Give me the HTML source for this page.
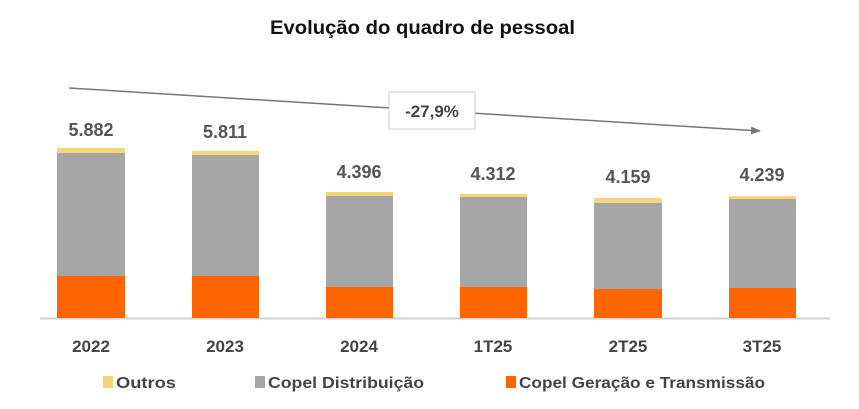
<!DOCTYPE html>
<html><head><meta charset="utf-8"><style>
html,body{margin:0;padding:0;background:#fff;width:859px;height:409px;overflow:hidden}
svg{display:block}
text{font-family:"Liberation Sans",sans-serif;font-weight:bold}
</style></head><body>
<svg width="859" height="409" viewBox="0 0 859 409">
<defs><marker id="ah" markerWidth="10" markerHeight="8" refX="9" refY="4" orient="auto" markerUnits="userSpaceOnUse"><path d="M0,0 L10,4 L0,8 z" fill="#777"/></marker></defs>
<text x="270" y="34" font-size="19" fill="#111" textLength="305" lengthAdjust="spacingAndGlyphs">Evolução do quadro de pessoal</text>
<line x1="69" y1="88" x2="760" y2="131" stroke="#777" stroke-width="1.5" marker-end="url(#ah)"/>
<rect x="389" y="92" width="86" height="37" fill="#fff" stroke="#ccc" stroke-width="1"/>
<text x="432" y="117" font-size="17" fill="#444" text-anchor="middle">-27,9%</text>
<line x1="40" y1="318.5" x2="830" y2="318.5" stroke="#d0d0d0" stroke-width="2"/>
<g>
<rect x="57" y="148" width="68" height="5" fill="#f5d57a"/><rect x="57" y="153" width="68" height="123" fill="#a6a6a6"/><rect x="57" y="276" width="68" height="42" fill="#ff6600"/>
<rect x="192" y="151" width="67" height="4" fill="#f5d57a"/><rect x="192" y="155" width="67" height="121" fill="#a6a6a6"/><rect x="192" y="276" width="67" height="42" fill="#ff6600"/>
<rect x="326" y="192" width="67" height="4" fill="#f5d57a"/><rect x="326" y="196" width="67" height="91" fill="#a6a6a6"/><rect x="326" y="287" width="67" height="31" fill="#ff6600"/>
<rect x="460" y="194" width="67" height="3" fill="#f5d57a"/><rect x="460" y="197" width="67" height="90" fill="#a6a6a6"/><rect x="460" y="287" width="67" height="31" fill="#ff6600"/>
<rect x="594" y="198" width="68" height="5" fill="#f5d57a"/><rect x="594" y="203" width="68" height="86" fill="#a6a6a6"/><rect x="594" y="289" width="68" height="29" fill="#ff6600"/>
<rect x="729" y="196" width="67" height="3" fill="#f5d57a"/><rect x="729" y="199" width="67" height="89" fill="#a6a6a6"/><rect x="729" y="288" width="67" height="30" fill="#ff6600"/>
</g>
<g font-size="18" fill="#555" text-anchor="middle">
<text x="91" y="136">5.882</text><text x="225" y="138">5.811</text><text x="359" y="178">4.396</text>
<text x="493" y="180">4.312</text><text x="628" y="183">4.159</text><text x="762" y="181">4.239</text>
</g>
<g font-size="17" fill="#444" text-anchor="middle">
<text x="91" y="352">2022</text><text x="225" y="352">2023</text><text x="359" y="352">2024</text>
<text x="493" y="352">1T25</text><text x="628" y="352">2T25</text><text x="762" y="352">3T25</text>
</g>
<rect x="103" y="376" width="10" height="12" fill="#f5d57a"/>
<text x="116" y="388" font-size="16" fill="#444" textLength="60" lengthAdjust="spacingAndGlyphs">Outros</text>
<rect x="255" y="376" width="10" height="12" fill="#a6a6a6"/>
<text x="268" y="388" font-size="16" fill="#444" textLength="156" lengthAdjust="spacingAndGlyphs">Copel Distribuição</text>
<rect x="506" y="376" width="10" height="12" fill="#ff6600"/>
<text x="519" y="388" font-size="16" fill="#444" textLength="246" lengthAdjust="spacingAndGlyphs">Copel Geração e Transmissão</text>
</svg>
</body></html>
